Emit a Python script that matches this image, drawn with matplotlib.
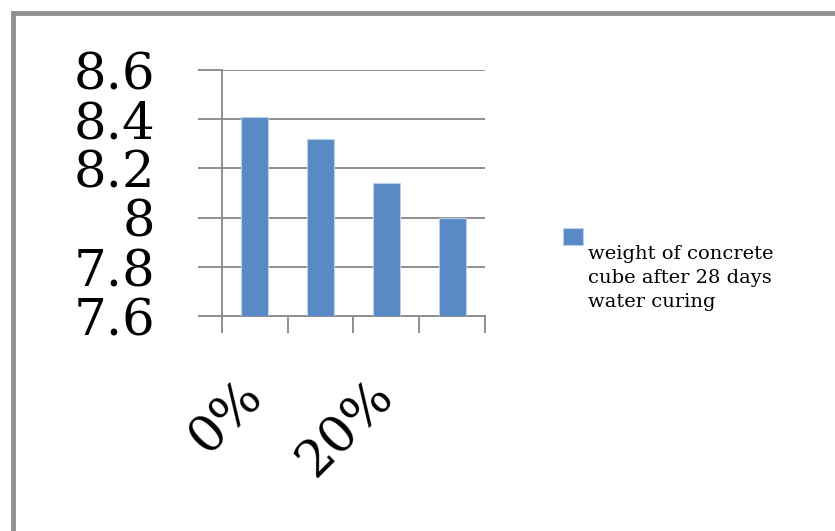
import matplotlib.pyplot as plt
from matplotlib.patches import Rectangle
from matplotlib.legend_handler import HandlerPatch

# Datos: peso del cubo de concreto tras 28 días de curado en agua
categories = ["0%", "10%", "20%", "30%"]
weights = [8.41, 8.32, 8.14, 8.00]
y_ticks = [7.6, 7.8, 8.0, 8.2, 8.4, 8.6]
y_tick_labels = ["7.6", "7.8", "8", "8.2", "8.4", "8.6"]
series_label = "weight of concrete\ncube after 28 days\nwater curing"

bar_color = "#5a8ac6"
grid_color = "#8e8e8e"

plt.rcParams["font.family"] = "DejaVu Serif"

fig = plt.figure(figsize=(8.35, 5.31), dpi=100)
ax = fig.add_axes([0.2659, 0.405, 0.3149, 0.463])

x = list(range(len(categories)))
bars = ax.bar(x, weights, width=0.41, color=bar_color, edgecolor="#b9cfea",
              linewidth=0.8, label=series_label, zorder=3)

ax.set_xlim(-0.5, len(categories) - 0.5)
ax.set_ylim(7.6, 8.6)

# Eje Y: etiquetas grandes, rejilla horizontal que sale por la izquierda
ax.set_yticks(y_ticks)
ax.set_yticklabels(y_tick_labels, fontsize=37)
ax.tick_params(axis="y", length=17, width=1.4, color=grid_color, pad=31,
               direction="out")
ax.grid(True, axis="y", color=grid_color, linewidth=1.4, zorder=0)

# Eje X: marcas entre categorías y sólo una etiqueta de cada dos
ax.set_xticks(x)
ax.set_xticklabels([c if i % 2 == 0 else "" for i, c in enumerate(categories)],
                   fontsize=37, rotation=45, ha="right", va="center",
                   rotation_mode="anchor")
ax.tick_params(axis="x", which="major", length=0, pad=52)
ax.set_xticks([i - 0.5 for i in range(len(categories) + 1)], minor=True)
ax.tick_params(axis="x", which="minor", length=12, width=1.4, color=grid_color,
               direction="out")

for side in ["top", "right"]:
    ax.spines[side].set_visible(False)
for side in ["left", "bottom"]:
    ax.spines[side].set_color(grid_color)
    ax.spines[side].set_linewidth(1.4)
ax.spines["left"].set_bounds(7.6, 8.6)


# El cuadro de la leyenda va a la altura de la primera línea del texto
def top_square(legend, orig_handle, xdescent, ydescent, width, height, fontsize):
    return Rectangle((-xdescent, -ydescent + 30), width, height)


def from_first_bar(legend_handle, orig_handle):
    legend_handle.update_from(orig_handle.patches[0])


leg = ax.legend(loc="center left", bbox_to_anchor=(1.297, 0.154), frameon=False,
                fontsize=14, handlelength=1.05, handleheight=1.0,
                handletextpad=0.25, borderpad=0, borderaxespad=0,
                handler_map={type(bars): HandlerPatch(patch_func=top_square,
                                                      update_func=from_first_bar)})
for t in leg.get_texts():
    t.set_linespacing(1.4)

# Marco gris alrededor del gráfico
fig.patches.append(Rectangle((0.015, -0.1), 1.1, 1.0746, transform=fig.transFigure,
                             fill=False, edgecolor="#8f8f8f", linewidth=3.5))

fig.savefig("out.png", dpi=100)
